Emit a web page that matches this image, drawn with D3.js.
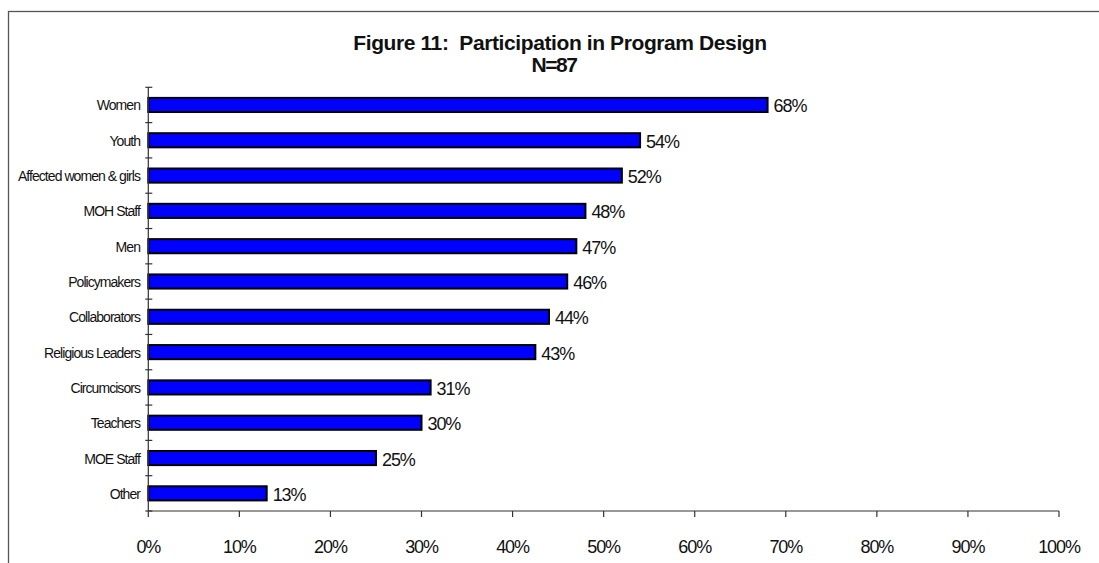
<!DOCTYPE html>
<html><head><meta charset="utf-8">
<script src="https://cdn.jsdelivr.net/npm/d3@7"></script>
<style>
html,body{margin:0;padding:0;background:#fff;}
svg{display:block;font-family:"Liberation Sans",Arial,sans-serif;}
</style></head>
<body>
<svg id="chart" width="1099" height="563"></svg>
<script>
const categories = ["Women","Youth","Affected women & girls","MOH Staff","Men","Policymakers","Collaborators","Religious Leaders","Circumcisors","Teachers","MOE Staff","Other"];
const values = [68, 54, 52, 48, 47, 46, 44, 42.5, 31, 30, 25, 13];
const xTicks = [0,10,20,30,40,50,60,70,80,90,100];
const titleLines = ["Figure 11:  Participation in Program Design", "N=87"];

(function(){
const svg = d3.select("#chart");
const pLeft = 148.3, pRight = 1059, pTop = 87.3, pBottom = 511;

// frame
svg.append("rect").attr("x",8.5).attr("y",11.5).attr("width",1200).attr("height",700)
  .attr("fill","none").attr("stroke","#555").attr("stroke-width",1.3);

const x = d3.scaleLinear().domain([0,100]).range([pLeft,pRight]);
const y = d3.scaleBand().domain(categories).range([pTop,pBottom]).paddingInner(0.6).paddingOuter(0.3);
const step = (pBottom-pTop)/categories.length;

// title
svg.append("text").attr("x",560).attr("y",49.5).attr("text-anchor","middle")
  .attr("font-size",21).attr("font-weight","bold").attr("letter-spacing",-0.4).attr("fill","#111")
  .style("white-space","pre").text(titleLines[0]);
svg.append("text").attr("x",554).attr("y",71.5).attr("text-anchor","middle")
  .attr("font-size",21).attr("font-weight","bold").attr("letter-spacing",-1.5).attr("fill","#111")
  .text(titleLines[1]);

// bars
svg.selectAll("rect.bar").data(categories).enter().append("rect").attr("class","bar")
  .attr("x",x(0)).attr("y",d=>y(d)).attr("width",(d,i)=>x(values[i])-x(0)).attr("height",y.bandwidth())
  .attr("fill","#0000ff").attr("stroke","#000").attr("stroke-width",2);

// value labels
svg.selectAll("text.val").data(categories).enter().append("text").attr("class","val")
  .attr("x",(d,i)=>x(values[i])+6).attr("y",d=>y(d)+y.bandwidth()/2+1.5)
  .attr("dominant-baseline","central").attr("font-size",18).attr("letter-spacing",-1.1).attr("fill","#111")
  .text((d,i)=>Math.round(values[i])+"%");

// y axis
const yAxis = svg.append("g");
yAxis.append("line").attr("x1",pLeft).attr("x2",pLeft).attr("y1",pTop).attr("y2",pBottom).attr("stroke","#333").attr("stroke-width",1.2);
d3.range(categories.length+1).forEach(i=>{
  const yy = pTop + i*step;
  yAxis.append("line").attr("x1",pLeft-3).attr("x2",pLeft+4).attr("y1",yy).attr("y2",yy).attr("stroke","#333").attr("stroke-width",1.2);
});
yAxis.selectAll("text").data(categories).enter().append("text")
  .attr("x",140).attr("y",d=>y(d)+y.bandwidth()/2+0.5).attr("text-anchor","end").attr("dominant-baseline","central")
  .attr("font-size",14).attr("letter-spacing",-0.95).attr("fill","#111").text(d=>d);

// x axis
const xAxis = svg.append("g");
xAxis.append("line").attr("x1",pLeft).attr("x2",pRight).attr("y1",pBottom).attr("y2",pBottom).attr("stroke","#333").attr("stroke-width",1.2);
xTicks.forEach(t=>{
  xAxis.append("line").attr("x1",x(t)).attr("x2",x(t)).attr("y1",pBottom).attr("y2",pBottom+6).attr("stroke","#333").attr("stroke-width",1.2);
  xAxis.append("text").attr("x",x(t)).attr("y",553).attr("text-anchor","middle")
    .attr("font-size",18).attr("letter-spacing",-1.1).attr("fill","#111").text(t+"%");
});
})();
</script>
</body></html>
